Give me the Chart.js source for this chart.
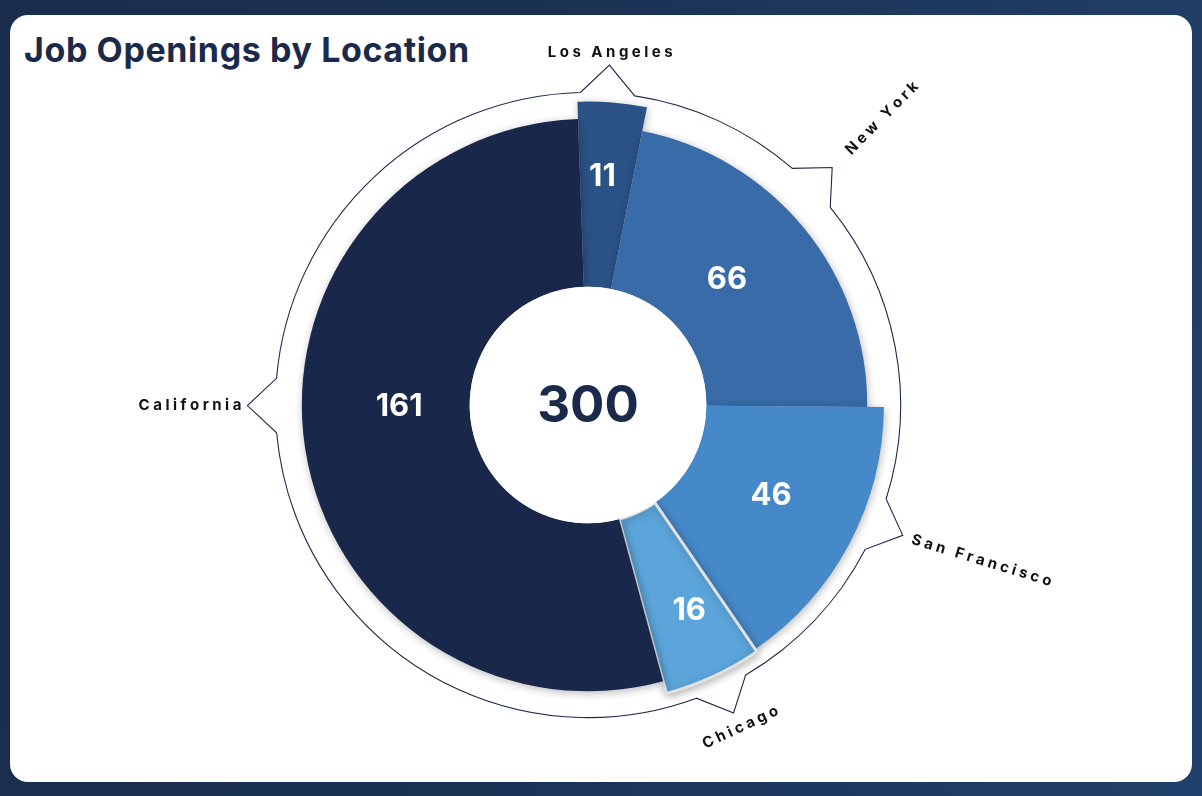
<!DOCTYPE html>
<html>
<head>
<meta charset="utf-8">
<title>Job Openings by Location</title>
<script src="https://cdn.jsdelivr.net/npm/chart.js@4.4.0/dist/chart.umd.min.js"></script>
<style>
  html, body { margin: 0; padding: 0; width: 1202px; height: 796px; overflow: hidden; }
  body {
    position: relative;
    background: linear-gradient(100deg, #192c4c 0%, #1b3255 45%, #21406b 100%);
    font-family: Inter, "Open Sans", sans-serif;
  }
  .card {
    position: absolute; left: 10px; top: 15px; width: 1182px; height: 767px;
    background: #ffffff; border-radius: 18px;
  }
  h1 {
    position: absolute; left: 24px; top: 29px; margin: 0;
    font-size: 34px; font-weight: 700; color: #1b2a4a; letter-spacing: 0.6px;
  }
  #wrap { position: absolute; left: 0; top: 0; width: 1202px; height: 796px; }
</style>
</head>
<body>
<div class="card"></div>
<h1>Job Openings by Location</h1>
<div id="wrap"><canvas id="jobChart"></canvas></div>

<script>
  "use strict";

  // data
  const locations = ["Los Angeles", "New York", "San Francisco", "Chicago", "California"];
  const openings = [11, 66, 46, 16, 161];

  // styling per slice
  const sliceColors = ["#2b5286", "#386ba7", "#4689c8", "#5ca5da", "#19284a"];
  const sliceReach = [1.0, 0.92, 0.975, 0.985, 0.943];
  const sliceBorder = [0, 0, 0, 3, 0];
  const valueDepth = [0.6, 0.43, 0.48, 0.61, 0.42];
  const valueShift = [-1, -3, -2, -1.5, 8.5];

  // outer labels: angular nudge (deg), text turn (deg), alignment and gap from the pointer tip
  const labelShift = [-1, -5, -5.5, -0.5, 8.5];
  const labelTurn = [0, -45, 17, -25, 0];
  const labelAlign = ["center", "left", "left", "center", "right"];
  const labelGap = [13, 22, 10, 16, 6];

  const navy = "#1b2a4a";
  const total = openings.reduce((a, b) => a + b, 0);
  const rad = (deg) => deg * Math.PI / 180;

  // give every slice its own outer radius
  const reachPlugin = {
    id: "reach",
    afterDatasetsUpdate(chart) {
      const meta = chart.getDatasetMeta(0);
      const base = meta.controller.outerRadius;
      meta.data.forEach((arc, i) => {
        arc.outerRadius = base * sliceReach[i];
      });
    },
    beforeDatasetsDraw(chart) {
      const ctx = chart.ctx;
      ctx.save();
      ctx.shadowColor = "rgba(0,0,0,0.28)";
      ctx.shadowBlur = 9;
      ctx.shadowOffsetX = 1;
      ctx.shadowOffsetY = 2;
    },
    afterDatasetsDraw(chart) {
      chart.ctx.restore();
    }
  };

  function drawSpaced(ctx, text, x, y, rot, align, spacing) {
    ctx.save();
    ctx.translate(x, y);
    ctx.rotate(rot);
    const widths = [...text].map((ch) => ctx.measureText(ch).width);
    const full = widths.reduce((a, b) => a + b, 0) + spacing * (widths.length - 1);
    let cx = align === "center" ? -full / 2 : align === "right" ? -full : 0;
    ctx.textAlign = "left";
    ctx.textBaseline = "middle";
    [...text].forEach((ch, i) => {
      ctx.fillText(ch, cx, 0);
      cx += widths[i] + spacing;
    });
    ctx.restore();
  }

  // ring with pointers, labels, values and the total in the middle
  const decorPlugin = {
    id: "decor",
    afterDraw(chart) {
      const ctx = chart.ctx;
      const meta = chart.getDatasetMeta(0);
      const arcs = meta.data;
      if (!arcs.length) return;
      const cx = arcs[0].x;
      const cy = arcs[0].y;
      const base = meta.controller.outerRadius;
      const inner = meta.controller.innerRadius;
      const ringR = base * 1.03;
      const tipR = ringR + 28;
      const hw = rad(5);

      const pointers = arcs.map((arc, i) => ({
        i,
        mid: (arc.startAngle + arc.endAngle) / 2,
        a: (arc.startAngle + arc.endAngle) / 2 + rad(labelShift[i])
      }));
      const sorted = pointers.slice().sort((p, q) => p.a - q.a);

      ctx.save();
      ctx.strokeStyle = navy;
      ctx.lineWidth = 1.1;
      ctx.beginPath();
      sorted.forEach((p, k) => {
        const next = k === sorted.length - 1 ? sorted[0].a + Math.PI * 2 : sorted[k + 1].a;
        if (k === 0) ctx.moveTo(cx + ringR * Math.cos(p.a - hw), cy + ringR * Math.sin(p.a - hw));
        ctx.lineTo(cx + tipR * Math.cos(p.a), cy + tipR * Math.sin(p.a));
        ctx.lineTo(cx + ringR * Math.cos(p.a + hw), cy + ringR * Math.sin(p.a + hw));
        ctx.arc(cx, cy, ringR, p.a + hw, next - hw, false);
      });
      ctx.closePath();
      ctx.stroke();

      // location labels
      ctx.fillStyle = "#111111";
      ctx.font = "700 15px Inter, 'Open Sans', sans-serif";
      pointers.forEach((p) => {
        const r = tipR + labelGap[p.i];
        drawSpaced(ctx, locations[p.i], cx + r * Math.cos(p.a), cy + r * Math.sin(p.a),
          rad(labelTurn[p.i]), labelAlign[p.i], 3.5);
      });

      // values on the slices
      ctx.fillStyle = "#ffffff";
      ctx.font = "700 31px Inter, 'Open Sans', sans-serif";
      ctx.textAlign = "center";
      ctx.textBaseline = "middle";
      pointers.forEach((p) => {
        const arc = arcs[p.i];
        const r = inner + (arc.outerRadius - inner) * valueDepth[p.i];
        const a = p.mid + rad(valueShift[p.i]);
        ctx.fillText(String(openings[p.i]), cx + r * Math.cos(a), cy + r * Math.sin(a) + 1);
      });

      // white hub and total
      ctx.beginPath();
      ctx.arc(cx, cy, inner, 0, Math.PI * 2);
      ctx.fillStyle = "#ffffff";
      ctx.fill();
      ctx.fillStyle = navy;
      ctx.font = "700 51px Inter, 'Open Sans', sans-serif";
      ctx.fillText(String(total), cx, cy + 2);
      ctx.restore();
    }
  };

  new Chart(document.getElementById("jobChart"), {
    type: "doughnut",
    data: {
      labels: locations,
      datasets: [
        {
          data: openings,
          backgroundColor: sliceColors,
          borderColor: "#e0e0e0",
          borderWidth: sliceBorder,
          clip: false
        }
      ]
    },
    options: {
      responsive: true,
      maintainAspectRatio: false,
      animation: false,
      rotation: -2,
      cutout: "39%",
      layout: {
        padding: { left: 283, right: 309, top: 100, bottom: 86 }
      },
      plugins: {
        legend: { display: false },
        tooltip: { enabled: false }
      }
    },
    plugins: [reachPlugin, decorPlugin]
  });
</script>
</body>
</html>
